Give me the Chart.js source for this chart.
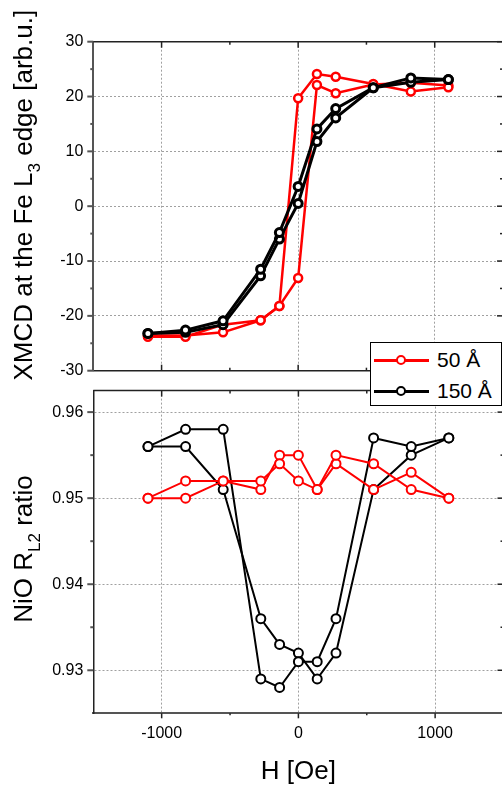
<!DOCTYPE html>
<html>
<head>
<meta charset="utf-8">
<script src="https://cdn.jsdelivr.net/npm/chart.js@4.4.0/dist/chart.umd.min.js"></script>
<style>
  html, body { margin: 0; padding: 0; background: #fff; overflow: hidden; }
  #page { position: relative; width: 502px; height: 785px; overflow: hidden; }
  .panel { position: absolute; left: 0; width: 510px; }
  #topBox { top: 0; height: 392px; z-index: 2; }
  #botBox { top: 371px; height: 414px; z-index: 1; }
  #legend {
    position: absolute; left: 370px; top: 342px; width: 130px; height: 62px;
    border: 1px solid #000; background: #fff; z-index: 5;
    font-family: "Liberation Sans", Arial, sans-serif; font-size: 21px; color: #000;
  }
  .row { position: absolute; left: 0; height: 24px; width: 130px; }
  .row .ln { position: absolute; left: 3px; width: 55px; top: 11px; height: 2.5px; }
  .row .mk { position: absolute; left: 25px; top: 6.5px; width: 6px; height: 6px; border-radius: 50%; background: #fff; border-style: solid; border-width: 2.5px; }
  .row .tx { position: absolute; left: 66px; top: 0; line-height: 24px; }
</style>
</head>
<body>
<div id="page">
  <div class="panel" id="topBox"><canvas id="topCanvas"></canvas></div>
  <div class="panel" id="botBox"><canvas id="botCanvas"></canvas></div>
  <div id="legend"></div>
</div>
<script>
// ── Données ────────────────────────────────────────────────────────────────
const fieldOe = [-1100, -825, -550, -275, -137.5, 0, 137.5, 275, 550, 825, 1100];

// XMCD au seuil L3 du Fe (deux branches par échantillon)
const xmcd50Down  = [-23.8, -23.8, -21.6, -20.8, -18.2, 19.7, 24.1, 23.6, 22.3, 20.9, 21.7];
const xmcd50Up    = [-23.6, -23.6, -23.0, -20.8, -18.2, -13.1, 22.1, 20.6, 22.2, 22.5, 22.0];
const xmcd150Down = [-23.2, -22.6, -20.9, -11.5, -4.8, 3.6, 14.1, 17.8, 21.6, 23.4, 23.1];
const xmcd150Up   = [-23.2, -23.0, -21.6, -12.7, -6.0, 0.5, 11.8, 16.1, 21.6, 22.6, 23.1];

// Rapport R_L2 du NiO
const ratio50A  = [0.950, 0.952, 0.952, 0.952, 0.954, 0.952, 0.951, 0.955, 0.954, 0.951, 0.950];
const ratio50B  = [0.950, 0.950, 0.952, 0.951, 0.955, 0.955, 0.951, 0.954, 0.951, 0.953, 0.950];
const ratio150A = [0.956, 0.958, 0.958, 0.929, 0.928, 0.931, 0.931, 0.936, 0.957, 0.956, 0.957];
const ratio150B = [0.956, 0.956, 0.951, 0.936, 0.933, 0.932, 0.929, 0.932, 0.951, 0.955, 0.957];

const seriesLabels = ['50 Å', '150 Å'];
const seriesColors = ['#ff0000', '#000000'];

// Graduations
const hMajor     = [-1000, 0, 1000];
const hMinor     = [-500, 500];
const xmcdMajor  = [-30, -20, -10, 0, 10, 20, 30];
const xmcdMinor  = [-25, -15, -5, 5, 15, 25];
const ratioMajor = [0.93, 0.94, 0.95, 0.96];
const ratioMinor = [0.935, 0.945, 0.955];

Chart.defaults.font.family = '"Liberation Sans", Arial, sans-serif';
Chart.defaults.color = '#000';

// ── Helpers ────────────────────────────────────────────────────────────────
function ds(label, ys, color, width, radius) {
  return {
    label,
    data: fieldOe.map((x, i) => ({ x, y: ys[i] })),
    borderColor: color,
    borderWidth: width,
    pointRadius: radius,
    pointBorderWidth: width,
    pointBackgroundColor: '#fff',
    pointBorderColor: color,
    tension: 0,
    fill: false,
  };
}

const tickList = (arr) => (s) => { s.ticks = arr.map(v => ({ value: v })); };

// cadre haut/droite + petites graduations
const framePlugin = {
  id: 'frame',
  afterDraw(chart, args, o) {
    const { ctx, chartArea: a } = chart;
    const x = chart.scales.x, y = chart.scales.y;
    ctx.save();
    ctx.strokeStyle = '#222';
    ctx.lineWidth = 1.5;
    ctx.beginPath();
    ctx.moveTo(a.left, a.top); ctx.lineTo(a.right, a.top); ctx.lineTo(a.right, a.bottom);
    ctx.stroke();
    const line = (x1, y1, x2, y2) => { ctx.beginPath(); ctx.moveTo(x1, y1); ctx.lineTo(x2, y2); ctx.stroke(); };
    const xs = o.xMajor.map(v => [v, 6]).concat(o.xMinor.map(v => [v, 3]));
    const ys = o.yMajor.map(v => [v, 6]).concat(o.yMinor.map(v => [v, 3]));
    for (const [v, len] of xs) {
      const px = x.getPixelForValue(v);
      line(px, a.top, px, a.top + len);
      if (o.bottomOut) line(px, a.bottom, px, a.bottom + len - 1);
      else line(px, a.bottom, px, a.bottom - len);
    }
    for (const [v, len] of ys) {
      const py = y.getPixelForValue(v);
      line(a.right, py, a.right - len, py);
    }
    ctx.strokeStyle = '#555';
    ctx.lineWidth = 2;
    for (const [v, len] of ys) {
      const py = y.getPixelForValue(v);
      line(a.left, py, a.left - len, py);
    }
    ctx.restore();
  }
};

// titre vertical avec indices
const yTitlePlugin = {
  id: 'yTitle',
  afterDraw(chart, args, o) {
    const { ctx, chartArea: a } = chart;
    const size = o.size, sub = Math.round(size * 0.65);
    const fam = Chart.defaults.font.family;
    ctx.save();
    let total = 0;
    for (const p of o.parts) {
      ctx.font = `${p.sub ? sub : size}px ${fam}`;
      total += ctx.measureText(p.t).width;
    }
    ctx.translate(o.x, (a.top + a.bottom) / 2 + (o.dy || 0));
    ctx.rotate(-Math.PI / 2);
    ctx.fillStyle = '#000';
    ctx.textBaseline = 'alphabetic';
    let cx = -total / 2;
    for (const p of o.parts) {
      ctx.font = `${p.sub ? sub : size}px ${fam}`;
      ctx.fillText(p.t, cx, size * 0.36 + (p.sub ? size * 0.28 : 0));
      cx += ctx.measureText(p.t).width;
    }
    ctx.restore();
  }
};

function baseOptions(pad) {
  return {
    animation: false,
    responsive: true,
    maintainAspectRatio: false,
    layout: { padding: pad },
    plugins: { legend: { display: false }, tooltip: { enabled: false } },
  };
}

const gridStyle = { color: '#a0a0a0', lineWidth: 1, drawTicks: false };

// ── Panneau haut : XMCD ────────────────────────────────────────────────────
new Chart(document.getElementById('topCanvas'), {
  type: 'line',
  data: {
    datasets: [
      ds(seriesLabels[1], xmcd150Down, seriesColors[1], 3, 4),
      ds(seriesLabels[1], xmcd150Up,   seriesColors[1], 3, 4),
      ds(seriesLabels[0], xmcd50Down,  seriesColors[0], 2.5, 4),
      ds(seriesLabels[0], xmcd50Up,    seriesColors[0], 2.5, 4),
    ],
  },
  options: {
    ...baseOptions({ top: 41.7, right: 5.5, bottom: 21.3, left: 0 }),
    plugins: {
      legend: { display: false }, tooltip: { enabled: false },
      frame: { xMajor: hMajor, xMinor: hMinor, yMajor: xmcdMajor, yMinor: xmcdMinor, bottomOut: false },
      yTitle: { x: 23, dy: -11, size: 26, parts: [{ t: 'XMCD at the Fe L' }, { t: '3', sub: true }, { t: ' edge [arb.u.]' }] },
    },
    scales: {
      x: {
        type: 'linear', min: -1500, max: 1500,
        afterBuildTicks: tickList(hMajor),
        ticks: { display: false },
        grid: gridStyle,
        border: { color: '#222', width: 1.5, dash: [2, 2] },
        afterFit: s => { s.height = 0; },
      },
      y: {
        min: -30, max: 30,
        afterBuildTicks: tickList(xmcdMajor),
        ticks: { padding: 10, font: { size: 16 }, color: '#000', callback: v => String(v) },
        grid: gridStyle,
        border: { color: '#555', width: 2, dash: [2, 2] },
        afterFit: s => { s.width = 93.3; },
      },
    },
  },
  plugins: [framePlugin, yTitlePlugin],
});

// ── Panneau bas : rapport NiO ─────────────────────────────────────────────
new Chart(document.getElementById('botCanvas'), {
  type: 'line',
  data: {
    datasets: [
      ds(seriesLabels[0], ratio50A,  seriesColors[0], 2, 4.5),
      ds(seriesLabels[0], ratio50B,  seriesColors[0], 2, 4.5),
      ds(seriesLabels[1], ratio150A, seriesColors[1], 2, 4.5),
      ds(seriesLabels[1], ratio150B, seriesColors[1], 2, 4.5),
    ],
  },
  options: {
    ...baseOptions({ top: 12.3, right: 5.5, bottom: 0, left: 0 }),
    plugins: {
      legend: { display: false }, tooltip: { enabled: false },
      frame: { xMajor: hMajor, xMinor: hMinor, yMajor: ratioMajor, yMinor: ratioMinor, bottomOut: true },
      yTitle: { x: 23, dy: -3, size: 26, parts: [{ t: 'NiO R' }, { t: 'L2', sub: true }, { t: ' ratio' }] },
    },
    scales: {
      x: {
        type: 'linear', min: -1500, max: 1500,
        afterBuildTicks: tickList(hMajor),
        ticks: { padding: 10.4, font: { size: 16 }, color: '#000', callback: v => String(v) },
        grid: gridStyle,
        border: { color: '#555', width: 2, dash: [2, 2] },
        title: { display: true, text: 'H [Oe]', font: { size: 26, lineHeight: 1 }, padding: { top: 0, bottom: 0 }, color: '#000' },
        afterFit: s => { s.height = 71.7; },
      },
      y: {
        min: 0.925, max: 0.9625,
        afterBuildTicks: tickList(ratioMajor),
        ticks: { padding: 10, font: { size: 16 }, color: '#000', callback: v => v.toFixed(2) },
        grid: gridStyle,
        border: { color: '#222', width: 1.5, dash: [2, 2] },
        afterFit: s => { s.width = 93.3; },
      },
    },
  },
  plugins: [framePlugin, yTitlePlugin],
});

// ── Légende HTML ───────────────────────────────────────────────────────────
const legend = document.getElementById('legend');
seriesLabels.forEach((label, i) => {
  const row = document.createElement('div');
  row.className = 'row';
  row.style.top = (5 + i * 31) + 'px';
  row.innerHTML = `<div class="ln" style="background:${seriesColors[i]}"></div>` +
                  `<div class="mk" style="border-color:${seriesColors[i]}"></div>` +
                  `<div class="tx">${label}</div>`;
  legend.appendChild(row);
});
</script>
</body>
</html>
